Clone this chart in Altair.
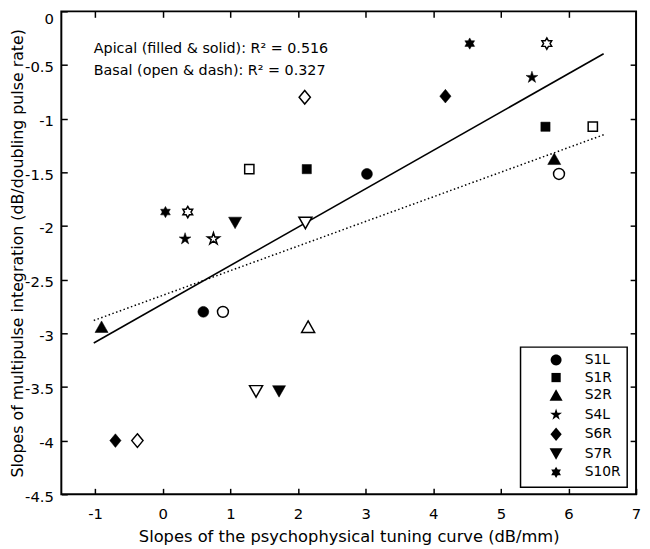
import altair as alt
import pandas as pd

# ---- data ----
subjects = ["S1L", "S1R", "S2R", "S4L", "S6R", "S7R", "S10R"]

apical_subject = ["S1L", "S1L", "S1R", "S1R", "S2R", "S2R", "S4L", "S4L",
                  "S6R", "S6R", "S7R", "S7R", "S10R", "S10R"]
apical_x = [3.02, 0.60, 2.13, 5.66, 5.79, -0.905, 0.33, 5.46,
            4.18, -0.70, 1.07, 1.72, 0.04, 4.54]
apical_y = [-1.515, -2.80, -1.47, -1.075, -1.375, -2.94, -2.12, -0.615,
            -0.79, -4.00, -1.97, -3.54, -1.87, -0.30]

basal_subject = ["S1L", "S1L", "S1R", "S1R", "S2R", "S4L",
                 "S6R", "S6R", "S7R", "S7R", "S10R", "S10R"]
basal_x = [5.86, 0.89, 1.28, 6.36, 2.15, 0.75,
           2.10, -0.375, 2.11, 1.38, 0.37, 5.68]
basal_y = [-1.515, -2.80, -1.47, -1.075, -2.94, -2.12,
           -0.80, -4.00, -1.97, -3.54, -1.87, -0.30]

fit_x = [-1.02, 6.52]
apical_fit_y = [-3.09, -0.395]
basal_fit_y = [-2.88, -1.15]

ann_x = [-1.02, -1.02]
ann_y = [-0.386, -0.597]
ann_text = ["Apical (filled & solid): R\u00b2 = 0.516",
            "Basal (open & dash): R\u00b2 = 0.327"]

x_ticks = [-1, 0, 1, 2, 3, 4, 5, 6, 7]
y_ticks = [0, -0.5, -1, -1.5, -2, -2.5, -3, -3.5, -4, -4.5]
x_inner_ticks = [-1, 0, 1, 2, 3, 4, 5, 6]
y_inner_ticks = [-0.5, -1, -1.5, -2, -2.5, -3, -3.5, -4]

# ---- marker shapes (unit paths) ----
shape_paths = [
    "M0.92,0 A0.92,0.92 0 1,1 -0.92,0 A0.92,0.92 0 1,1 0.92,0 Z",
    "M-0.78,-0.78 L0.78,-0.78 L0.78,0.78 L-0.78,0.78 Z",
    "M0,-1 L1.1,0.95 L-1.1,0.95 Z",
    "M0,-1.05 L0.236,-0.325 L0.999,-0.325 L0.381,0.124 L0.617,0.849 "
    "L0,0.401 L-0.617,0.849 L-0.381,0.124 L-0.999,-0.325 L-0.236,-0.325 Z",
    "M0,-1.15 L0.95,0 L0,1.15 L-0.95,0 Z",
    "M0,1 L1.1,-0.95 L-1.1,-0.95 Z",
    "M0,-0.95 L0.274,-0.475 L0.823,-0.475 L0.548,0 L0.823,0.475 L0.274,0.475 "
    "L0,0.95 L-0.274,0.475 L-0.823,0.475 L-0.548,0 L-0.823,-0.475 L-0.274,-0.475 Z",
]

apical = pd.DataFrame({"subject": apical_subject, "x": apical_x, "y": apical_y})
basal = pd.DataFrame({"subject": basal_subject, "x": basal_x, "y": basal_y})
fit_a = pd.DataFrame({"x": fit_x, "y": apical_fit_y})
fit_b = pd.DataFrame({"x": fit_x, "y": basal_fit_y})
ann = pd.DataFrame({"x": ann_x, "y": ann_y, "text": ann_text})

FONT = "DejaVu Sans"
xscale = alt.Scale(domain=[-1.5, 7], nice=False, zero=False)
yscale = alt.Scale(domain=[-4.5, 0], nice=False, zero=False)

common = dict(tickColor="black", tickWidth=1.5, tickSize=6, offset=-6,
              domain=False, grid=False, labelFont=FONT, labelFontSize=15,
              labelColor="black", titleFont=FONT, titleColor="black",
              titleFontWeight="normal")

x_bottom = alt.Axis(orient="bottom", values=x_ticks, labelExpr="'' + datum.value",
                    labelPadding=13, labelFlush=False,
                    title="Slopes of the psychophysical tuning curve (dB/mm)",
                    titleFontSize=16.5, titleBaseline="alphabetic", titleY=54,
                    **common)
y_left = alt.Axis(orient="left", values=y_ticks, labelExpr="'' + datum.value",
                  labelPadding=8, labelFlush=False,
                  labelBaseline={"condition": {"test": "datum.value == 0", "value": "top"},
                                 "value": "middle"},
                  labelOffset={"condition": {"test": "datum.value == 0", "value": 0},
                               "value": 2},
                  title="Slopes of multipulse integration (dB/doubling pulse rate)",
                  titleFontSize=16, titleAngle=270, titleBaseline="alphabetic",
                  titleX=-45, **common)
x_top = alt.Axis(orient="top", values=x_inner_ticks, labels=False, title=None, **common)
y_right = alt.Axis(orient="right", values=y_inner_ticks, labels=False, title=None, **common)

shape_scale = alt.Scale(domain=subjects, range=shape_paths)

line_a = alt.Chart(fit_a).mark_line(color="black", strokeWidth=1.6).encode(
    x=alt.X("x:Q", scale=xscale, axis=x_top),
    y=alt.Y("y:Q", scale=yscale, axis=y_right),
)
line_b = alt.Chart(fit_b).mark_line(color="black", strokeWidth=1.5, strokeDash=[1.5, 2.5]).encode(
    x=alt.X("x:Q", scale=xscale, axis=None),
    y=alt.Y("y:Q", scale=yscale, axis=None),
)

pts_a = alt.Chart(apical).mark_point(filled=True, fill="black", stroke="black",
                                     strokeWidth=0.5, size=144, opacity=1).encode(
    x=alt.X("x:Q", scale=xscale, axis=x_bottom),
    y=alt.Y("y:Q", scale=yscale, axis=y_left),
    shape=alt.Shape("subject:N", scale=shape_scale,
                    legend=alt.Legend(orient="none", legendX=465, legendY=340,
                                      title=None, padding=6, strokeColor="black",
                                      fillColor="white", symbolOffset=23,
                                      labelOffset=22, rowPadding=0.8,
                                      columnPadding=0,
                                      symbolSize=144, symbolFillColor="black",
                                      symbolStrokeColor="black",
                                      labelFont=FONT, labelFontSize=14,
                                      labelColor="black")),
)
pts_b = alt.Chart(basal).mark_point(filled=False, fill="white", stroke="black",
                                    strokeWidth=1.5, size=144, opacity=1).encode(
    x=alt.X("x:Q", scale=xscale, axis=None),
    y=alt.Y("y:Q", scale=yscale, axis=None),
    shape=alt.Shape("subject:N", scale=shape_scale, legend=None),
)

text = alt.Chart(ann).mark_text(align="left", baseline="alphabetic", font=FONT,
                                fontSize=14.5, color="black").encode(
    x=alt.X("x:Q", scale=xscale, axis=None),
    y=alt.Y("y:Q", scale=yscale, axis=None),
    text="text:N",
)

chart = alt.layer(line_a, line_b, pts_a, pts_b, text).resolve_axis(
    x="independent", y="independent"
).properties(
    width=582, height=489,
    autosize=alt.AutoSizeParams(type="none"),
    padding={"left": 54, "top": 0, "right": 6, "bottom": 52},
).configure(font=FONT).configure_view(
    stroke="black", strokeWidth=2
).configure_legend(strokeWidth=1.5)

chart.save("out.html", embed_options={"renderer": "svg", "actions": False})
